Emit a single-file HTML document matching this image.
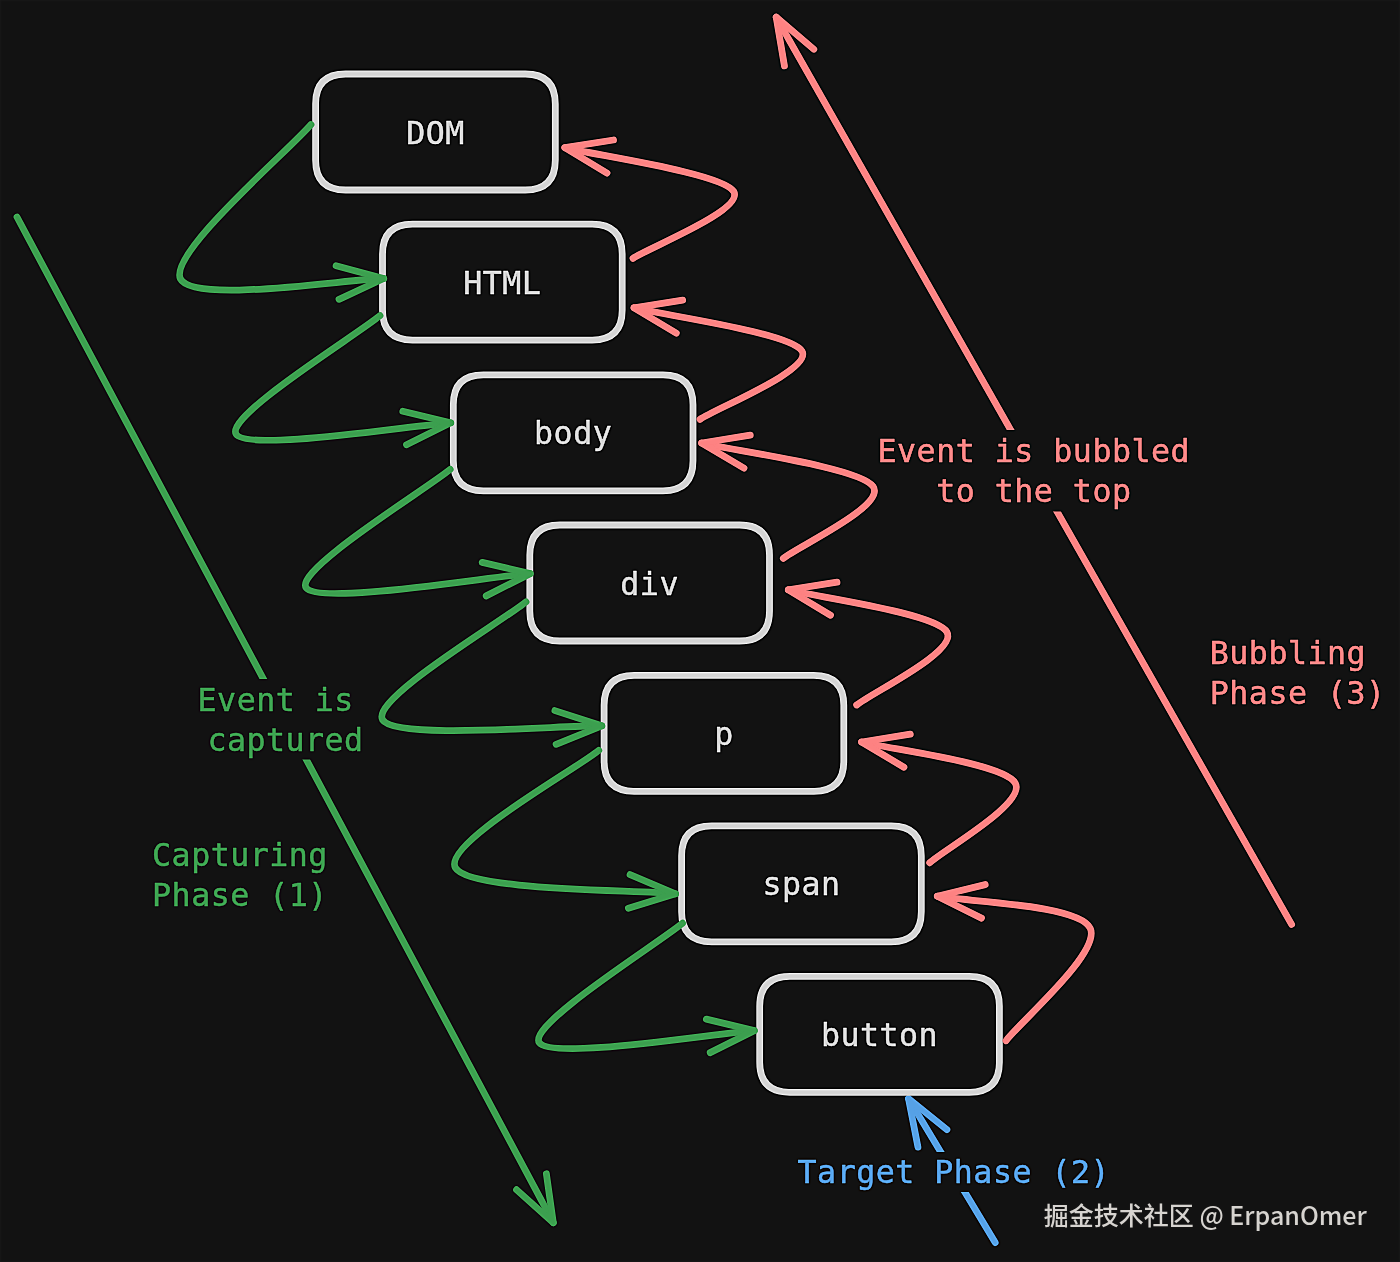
<!DOCTYPE html>
<html lang="en">
<head>
<meta charset="utf-8">
<title>Event phases: capturing, target, bubbling</title>
<style>
html,body{margin:0;padding:0;background:#121212;}
body{width:1400px;height:1262px;overflow:hidden;}
svg{display:block;}
</style>
</head>
<body>
<svg width="1400" height="1262" viewBox="0 0 1400 1262">
<defs><filter id="sharpen" filterUnits="userSpaceOnUse" x="0" y="0" width="1400" height="1262" color-interpolation-filters="sRGB"><feGaussianBlur in="SourceGraphic" stdDeviation="1" result="b"/><feComposite in="SourceGraphic" in2="b" operator="arithmetic" k1="0" k2="1.6" k3="-0.6" k4="0"/></filter><filter id="soft" color-interpolation-filters="sRGB"><feGaussianBlur stdDeviation="0.3"/></filter></defs>
<g filter="url(#sharpen)">
<rect width="1400" height="1262" fill="#121212"/>
<g fill="none" stroke="#3c9f4f" stroke-width="6.8" stroke-linecap="round" stroke-linejoin="round">
<path d="M17 217 L553.3 1222.7"/>
<path d="M516.55 1189.69 L553.3 1222.7 L546.37 1173.79"/>
</g>
<g fill="none" stroke="#fd8282" stroke-width="6.8" stroke-linecap="round" stroke-linejoin="round">
<path d="M1291.6 924.4 L776.2 17.2"/>
<path d="M813.82 49.22 L776.2 17.2 L784.44 65.91"/>
</g>
<g fill="none" stroke="#56a1e6" stroke-width="6.8" stroke-linecap="round" stroke-linejoin="round">
<path d="M995.2 1242.6 L908.5 1098.6"/>
<path d="M946.92 1129.65 L908.5 1098.6 L917.97 1147.08"/>
</g>
<g fill="#121212">
<rect x="197" y="679" width="178" height="80.5"/>
<rect x="876" y="430" width="316" height="81.5"/>
<rect x="796" y="1152" width="315" height="40"/>
</g>
<g fill="none" stroke="#d3d3d3" stroke-width="6.8" stroke-linejoin="round">
<path d="M345.6 74 L525.3 74 Q555.3 74 555.3 104 L555.3 160 Q555.3 190 525.3 190 L345.6 190 Q315.6 190 315.6 160 L315.6 104 Q315.6 74 345.6 74Z"/>
<path d="M412.5 224.1 L592.2 224.1 Q622.2 224.1 622.2 254.1 L622.2 310.1 Q622.2 340.1 592.2 340.1 L412.5 340.1 Q382.5 340.1 382.5 310.1 L382.5 254.1 Q382.5 224.1 412.5 224.1Z"/>
<path d="M483.3 374.8 L663 374.8 Q693 374.8 693 404.8 L693 460.8 Q693 490.8 663 490.8 L483.3 490.8 Q453.3 490.8 453.3 460.8 L453.3 404.8 Q453.3 374.8 483.3 374.8Z"/>
<path d="M559.8 525 L739.5 525 Q769.5 525 769.5 555 L769.5 611 Q769.5 641 739.5 641 L559.8 641 Q529.8 641 529.8 611 L529.8 555 Q529.8 525 559.8 525Z"/>
<path d="M634.1 675.3 L813.8 675.3 Q843.8 675.3 843.8 705.3 L843.8 761.3 Q843.8 791.3 813.8 791.3 L634.1 791.3 Q604.1 791.3 604.1 761.3 L604.1 705.3 Q604.1 675.3 634.1 675.3Z"/>
<path d="M711.6 825.8 L891.3 825.8 Q921.3 825.8 921.3 855.8 L921.3 911.8 Q921.3 941.8 891.3 941.8 L711.6 941.8 Q681.6 941.8 681.6 911.8 L681.6 855.8 Q681.6 825.8 711.6 825.8Z"/>
<path d="M789.7 976.3 L969.4 976.3 Q999.4 976.3 999.4 1006.3 L999.4 1062.3 Q999.4 1092.3 969.4 1092.3 L789.7 1092.3 Q759.7 1092.3 759.7 1062.3 L759.7 1006.3 Q759.7 976.3 789.7 976.3Z"/>
</g>
<g fill="none" stroke="#3c9f4f" stroke-width="6.8" stroke-linecap="round" stroke-linejoin="round">
<path d="M311 124.5 C289.23 150.22 168.26 253.14 180.38 278.8 C192.5 304.47 349.81 278.55 383.7 278.5"/>
<path d="M339.02 299.33 L383.7 278.5 L336.08 265.73"/>
<path d="M380 315.7 C356.03 335.46 224.39 416.4 236.17 434.25 C247.95 452.1 414.95 424.71 450.7 422.8"/>
<path d="M406.53 444.7 L450.7 422.8 L402.79 411.19"/>
<path d="M450.2 469.4 C426.21 489.17 292.94 570.68 306.27 588.05 C319.6 605.41 492.88 576.01 530.2 573.6"/>
<path d="M486.21 595.85 L530.2 573.6 L482.2 562.37"/>
<path d="M526 601.8 C502.1 621.48 369.99 699.23 382.63 719.89 C395.26 740.56 565.27 724.82 601.8 725.8"/>
<path d="M556.11 744.32 L601.8 725.8 L554.9 710.61"/>
<path d="M598.8 750.3 C574.88 769.85 442.53 843.66 455.31 867.58 C468.09 891.5 638.8 889.43 675.5 893.8"/>
<path d="M628.39 908.32 L675.5 893.8 L630.07 874.64"/>
<path d="M682.6 923.2 C658.71 943.11 527.32 1024.78 539.27 1042.68 C551.22 1060.58 718.46 1032.61 754.3 1030.6"/>
<path d="M710.2 1052.63 L754.3 1030.6 L706.35 1019.13"/>
</g>
<g fill="none" stroke="#fd8282" stroke-width="6.8" stroke-linecap="round" stroke-linejoin="round">
<path d="M633 258.3 C649.77 247.15 745.01 209.85 733.65 191.4 C722.28 172.95 592.94 154.9 564.8 147.6"/>
<path d="M613.51 140 L564.8 147.6 L607 173.09"/>
<path d="M700 419.3 C717 407.94 813 369.7 802 351.12 C791 332.54 662 315.02 634 307.8"/>
<path d="M682.69 300.07 L634 307.8 L676.27 333.17"/>
<path d="M783.3 558.3 C798.26 546.31 886.69 505.59 873.07 486.38 C859.46 467.16 730.18 450.23 701.6 443"/>
<path d="M750.26 435.06 L701.6 443 L743.97 468.2"/>
<path d="M856.7 705 C871.73 692.84 958.31 651.22 946.91 632.02 C935.51 612.82 814.73 596.84 788.3 589.8"/>
<path d="M837.01 582.18 L788.3 589.8 L830.51 615.27"/>
<path d="M929.7 862.8 C943.96 849.51 1026.62 803.21 1015.27 783.08 C1003.92 762.95 887.21 748.85 861.6 742"/>
<path d="M910.27 734.13 L861.6 742 L903.94 767.25"/>
<path d="M1006 1040.7 C1020.03 1021.94 1101.64 952.22 1090.19 928.14 C1078.74 904.05 962.78 901.52 937.3 896.2"/>
<path d="M985.21 884.58 L937.3 896.2 L981.47 918.09"/>
</g>
<g font-family="'DejaVu Sans Mono', 'Liberation Mono', monospace" font-size="31.6px" letter-spacing="0.51" stroke-width="0.5" stroke-linejoin="round">
<g fill="#d3d3d3" stroke="#d3d3d3" text-anchor="middle">
<text x="435.45" y="143.5">DOM</text>
<text x="502.35" y="293.6">HTML</text>
<text x="573.15" y="444.3">body</text>
<text x="649.65" y="594.5">div</text>
<text x="723.95" y="744.8">p</text>
<text x="801.45" y="895.3">span</text>
<text x="879.55" y="1045.8">button</text>
</g>
<g fill="#3c9f4f" stroke="#3c9f4f" text-anchor="start">
<text x="197.6" y="711">Event is</text>
</g>
<g fill="#3c9f4f" stroke="#3c9f4f" text-anchor="start">
<text x="207.4" y="751">captured</text>
</g>
<g fill="#3c9f4f" stroke="#3c9f4f" text-anchor="start">
<text x="152.1" y="865.5">Capturing</text>
<text x="152.1" y="905.5">Phase (1)</text>
</g>
<g fill="#fd8282" stroke="#fd8282" text-anchor="middle">
<text x="1033.8" y="461.7">Event is bubbled</text>
<text x="1033.8" y="501.7">to the top</text>
</g>
<g fill="#fd8282" stroke="#fd8282" text-anchor="start">
<text x="1209.8" y="663.5">Bubbling</text>
<text x="1209.8" y="703.5">Phase (3)</text>
</g>
<g fill="#56a1e6" stroke="#56a1e6" text-anchor="start">
<text x="797.6" y="1183">Target Phase (2)</text>
</g>
</g>
</g>
<text filter="url(#soft)" x="1043.8" y="1224.6" font-family="'Noto Sans CJK SC', 'Liberation Sans', sans-serif" font-size="25px" font-weight="500" fill="#d7d4d0">掘金技术社区 @ ErpanOmer</text>
</svg>
</body>
</html>
